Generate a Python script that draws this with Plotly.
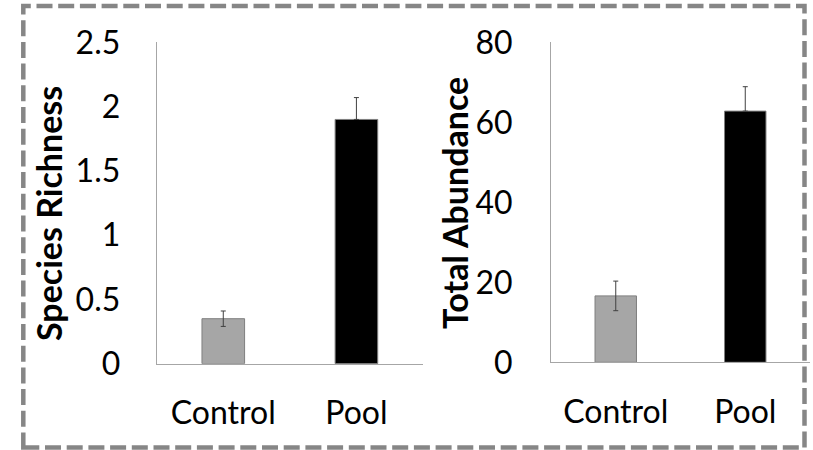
import plotly.graph_objects as go

categories = ["Control", "Pool"]
richness = [0.35, 1.90]
richness_err_plus = [0.06, 0.17]
richness_err_minus = [0.06, 0.0]
abundance = [16.6, 62.8]
abundance_err_plus = [3.7, 6.1]
abundance_err_minus = [3.7, 0.0]
bar_colors = ["#a6a6a6", "#000000"]
richness_ticks = [0, 0.5, 1, 1.5, 2, 2.5]
richness_ticktext = ["0", "0.5", "1", "1.5", "2", "2.5"]
abundance_ticks = [0, 20, 40, 60, 80]

W, H = 813, 450
FONT = "Lato"

fig = go.Figure()
err_style = dict(type="data", visible=True, symmetric=False, color="#404040", thickness=1, width=2.5)
fig.add_trace(go.Bar(x=categories, y=richness, marker=dict(color=bar_colors, line=dict(color="#7f7f7f", width=1)),
                     error_y=dict(array=richness_err_plus, arrayminus=richness_err_minus, **err_style),
                     xaxis="x", yaxis="y", showlegend=False, hoverinfo="skip"))
fig.add_trace(go.Bar(x=categories, y=abundance, marker=dict(color=bar_colors, line=dict(color="#7f7f7f", width=1)),
                     error_y=dict(array=abundance_err_plus, arrayminus=abundance_err_minus, **err_style),
                     xaxis="x2", yaxis="y2", showlegend=False, hoverinfo="skip"))

def px(x):
    return x / W
def py(y):
    return 1 - y / H

axis_common = dict(showgrid=False, zeroline=False, showline=True, linecolor="#a6a6a6", linewidth=1,
                   ticks="", automargin=False, tickfont=dict(family=FONT, size=32, color="#000000"))

fig.update_layout(
    width=W, height=H, margin=dict(l=0, r=0, t=0, b=0, pad=0),
    paper_bgcolor="white", plot_bgcolor="white",
    bargap=0.68,
    xaxis=dict(domain=[px(156.7), px(423)], anchor="y", ticklabelstandoff=21, **axis_common),
    yaxis=dict(domain=[py(363.7), py(42.3)], anchor="x", range=[0, 2.5], tickvals=richness_ticks,
               ticktext=richness_ticktext, ticklabelstandoff=29, **axis_common),
    xaxis2=dict(domain=[px(551), px(810)], anchor="y2", ticklabelstandoff=21, **axis_common),
    yaxis2=dict(domain=[py(362.3), py(42.3)], anchor="x2", range=[0, 80], tickvals=abundance_ticks,
                ticklabelstandoff=31, **axis_common),
    annotations=[
        dict(text="<b>Species Richness</b>", x=px(49), y=py(214), xref="paper", yref="paper",
             textangle=-90, showarrow=False, xanchor="center", yanchor="middle",
             font=dict(family=FONT, size=34, color="#000000")),
        dict(text="<b>Total Abundance</b>", x=px(454), y=py(203), xref="paper", yref="paper",
             textangle=-90, showarrow=False, xanchor="center", yanchor="middle",
             font=dict(family=FONT, size=34, color="#000000")),
    ],
    shapes=[
        dict(type="rect", xref="paper", yref="paper", x0=px(23.3), x1=px(804.5), y0=py(447.5), y1=py(6),
             line=dict(color="#868686", width=4.5, dash="16px,5.7px"), fillcolor="rgba(0,0,0,0)", layer="above"),
    ],
)

fig.write_html("out.html", config={"displayModeBar": False},
               post_script="document.body.style.margin='0';")
